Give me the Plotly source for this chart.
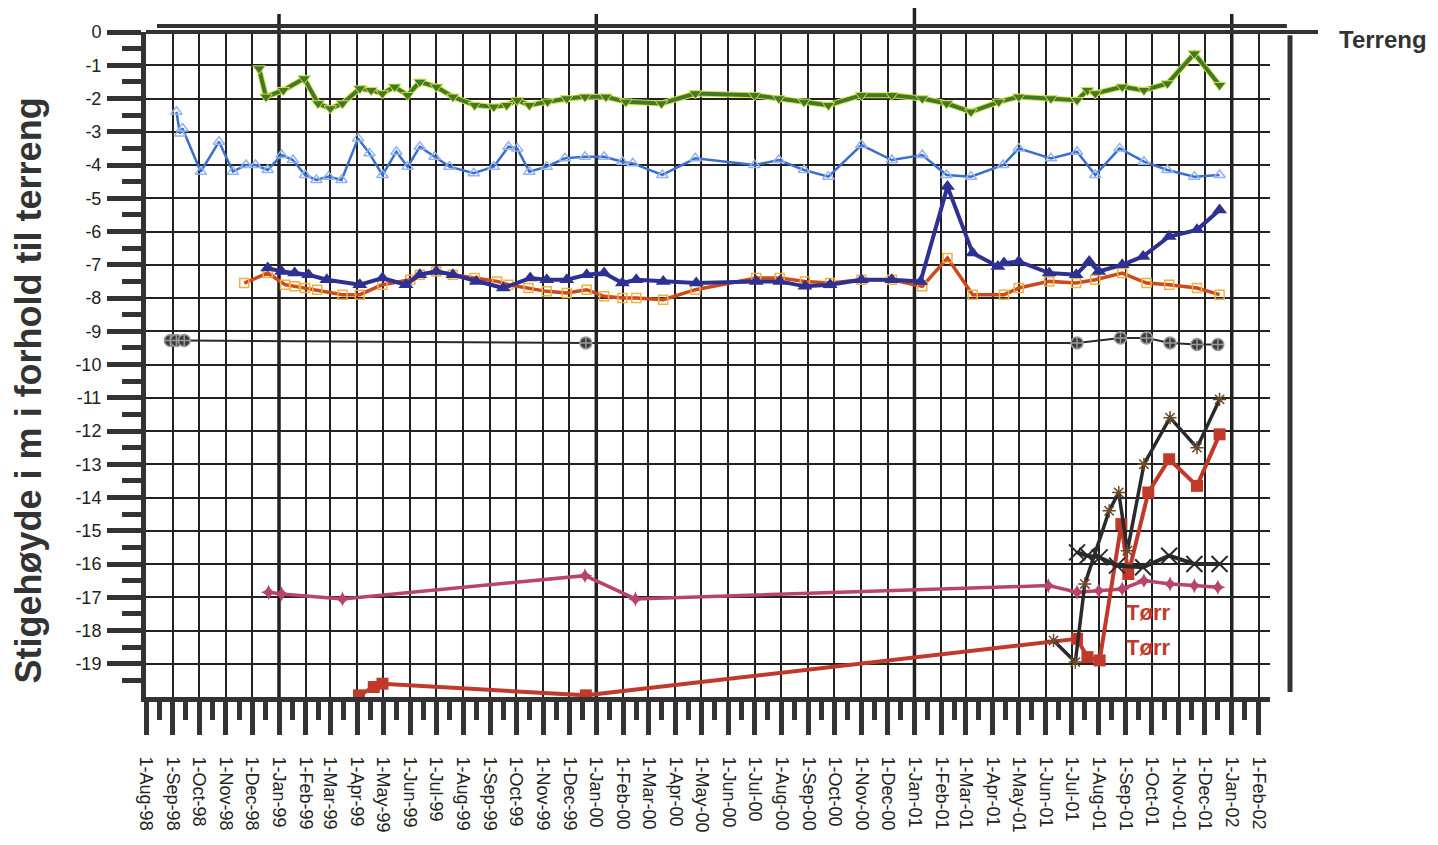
import pandas as pd
import plotly.graph_objects as go

# ---------------- data ----------------
green_dates = ["1998-12-09","1998-12-17","1999-01-06","1999-01-30","1999-02-15","1999-03-01","1999-03-15","1999-04-04","1999-04-17","1999-04-30","1999-05-14","1999-05-29","1999-06-12","1999-07-01","1999-07-20","1999-08-14","1999-09-05","1999-09-20","1999-10-02","1999-10-16","1999-11-06","1999-11-28","1999-12-19","2000-01-12","2000-02-04","2000-03-16","2000-04-24","2000-07-01","2000-07-29","2000-08-27","2000-09-24","2000-11-01","2000-12-06","2001-01-10","2001-02-07","2001-03-07","2001-04-08","2001-05-01","2001-06-07","2001-07-07","2001-07-19","2001-07-28","2001-08-28","2001-09-22","2001-10-19","2001-11-19","2001-12-18"]
green_vals = [-1.1,-1.95,-1.75,-1.4,-2.15,-2.3,-2.15,-1.7,-1.75,-1.85,-1.65,-1.9,-1.5,-1.65,-1.95,-2.2,-2.25,-2.2,-2.05,-2.2,-2.1,-2.0,-1.95,-1.95,-2.1,-2.15,-1.85,-1.9,-2.0,-2.1,-2.2,-1.9,-1.9,-2.0,-2.15,-2.4,-2.1,-1.95,-2.0,-2.05,-1.75,-1.85,-1.65,-1.75,-1.55,-0.65,-1.6]

lb_dates = ["1998-09-05","1998-09-09","1998-09-12","1998-10-03","1998-10-24","1998-11-09","1998-11-24","1998-12-05","1998-12-19","1999-01-04","1999-01-17","1999-01-31","1999-02-13","1999-02-27","1999-03-14","1999-04-02","1999-04-15","1999-04-30","1999-05-16","1999-05-29","1999-06-12","1999-06-29","1999-07-16","1999-08-13","1999-09-05","1999-09-22","1999-10-02","1999-10-16","1999-11-05","1999-11-26","1999-12-19","2000-01-10","2000-01-31","2000-02-12","2000-03-17","2000-04-24","2000-07-01","2000-07-29","2000-08-27","2000-09-24","2000-11-01","2000-12-06","2001-01-10","2001-02-07","2001-03-07","2001-04-13","2001-05-01","2001-06-07","2001-07-07","2001-07-28","2001-08-25","2001-09-22","2001-10-19","2001-11-19","2001-12-18"]
lb_vals = [-2.4,-3.05,-2.9,-4.2,-3.3,-4.2,-4.0,-4.0,-4.15,-3.7,-3.85,-4.3,-4.45,-4.35,-4.45,-3.2,-3.65,-4.3,-3.6,-4.05,-3.45,-3.75,-4.05,-4.25,-4.05,-3.45,-3.5,-4.2,-4.05,-3.8,-3.75,-3.75,-3.9,-3.95,-4.3,-3.8,-4.0,-3.85,-4.15,-4.35,-3.4,-3.85,-3.7,-4.3,-4.35,-4.0,-3.5,-3.8,-3.6,-4.3,-3.5,-3.9,-4.15,-4.35,-4.3]

nv_dates = ["1998-12-19","1999-01-04","1999-01-19","1999-02-04","1999-02-25","1999-04-04","1999-04-30","1999-05-27","1999-06-12","1999-07-01","1999-07-20","1999-08-16","1999-09-16","1999-10-17","1999-11-05","1999-11-28","1999-12-21","2000-01-10","2000-01-31","2000-02-16","2000-03-18","2000-04-25","2000-07-03","2000-07-30","2000-08-28","2000-09-26","2000-11-01","2000-12-06","2001-01-08","2001-02-08","2001-03-09","2001-04-07","2001-04-14","2001-05-01","2001-06-05","2001-07-06","2001-07-21","2001-08-01","2001-08-28","2001-09-21","2001-10-21","2001-11-22","2001-12-18"]
nv_vals = [-7.1,-7.2,-7.25,-7.3,-7.45,-7.6,-7.4,-7.6,-7.3,-7.2,-7.3,-7.5,-7.7,-7.4,-7.45,-7.45,-7.3,-7.25,-7.55,-7.45,-7.5,-7.55,-7.5,-7.5,-7.65,-7.6,-7.45,-7.45,-7.5,-4.65,-6.65,-7.05,-6.95,-6.9,-7.25,-7.3,-6.9,-7.2,-7.0,-6.75,-6.15,-5.95,-5.35]

or_dates = ["1998-11-22","1998-12-19","1999-01-08","1999-01-19","1999-01-31","1999-02-14","1999-03-15","1999-04-04","1999-04-30","1999-06-01","1999-06-12","1999-07-01","1999-07-20","1999-08-14","1999-09-09","1999-09-22","1999-10-15","1999-11-05","1999-11-28","1999-12-21","2000-01-10","2000-01-31","2000-02-16","2000-03-18","2000-04-24","2000-07-03","2000-07-30","2000-08-28","2000-09-26","2000-11-01","2000-12-06","2001-01-10","2001-02-08","2001-03-09","2001-04-14","2001-05-01","2001-06-05","2001-07-06","2001-07-28","2001-08-28","2001-09-25","2001-10-21","2001-11-22","2001-12-18"]
or_vals = [-7.55,-7.25,-7.6,-7.65,-7.7,-7.75,-7.9,-7.9,-7.6,-7.45,-7.3,-7.2,-7.3,-7.4,-7.5,-7.6,-7.7,-7.8,-7.85,-7.75,-7.95,-8.0,-8.0,-8.05,-7.75,-7.4,-7.4,-7.5,-7.55,-7.45,-7.45,-7.65,-6.8,-7.9,-7.9,-7.7,-7.5,-7.55,-7.45,-7.25,-7.55,-7.6,-7.7,-7.9]

bc_dates = ["1998-08-29","1998-09-05","1998-09-14","1999-12-20","2001-07-07","2001-08-26","2001-09-25","2001-10-22","2001-11-22","2001-12-16"]
bc_vals = [-9.28,-9.28,-9.28,-9.35,-9.35,-9.2,-9.2,-9.35,-9.4,-9.4]

mg_dates = ["1998-12-20","1999-01-04","1999-03-15","1999-12-19","2000-02-15","2001-06-04","2001-07-07","2001-08-01","2001-08-28","2001-09-22","2001-10-22","2001-11-19","2001-12-16"]
mg_vals = [-16.85,-16.9,-17.05,-16.35,-17.05,-16.65,-16.85,-16.8,-16.75,-16.5,-16.6,-16.65,-16.7]

rd_dates = ["1999-04-03","1999-04-20","1999-04-30","1999-12-20","2001-07-07","2001-07-19","2001-08-02","2001-08-27","2001-09-04","2001-09-27","2001-10-21","2001-11-22","2001-12-18"]
rd_vals = [-19.95,-19.7,-19.6,-19.95,-18.25,-18.8,-18.9,-14.8,-16.3,-13.85,-12.85,-13.65,-12.1]

ba_dates = ["2001-06-10","2001-07-05","2001-07-16","2001-08-13","2001-08-24","2001-09-03","2001-09-22","2001-10-22","2001-11-22","2001-12-18"]
ba_vals = [-18.3,-18.95,-16.6,-14.4,-13.85,-15.6,-13.0,-11.6,-12.5,-11.05]

bx_dates = ["2001-07-07","2001-07-19","2001-08-02","2001-08-22","2001-09-21","2001-10-21","2001-11-19","2001-12-18"]
bx_vals = [-15.65,-15.75,-15.8,-16.05,-16.1,-15.75,-16.0,-16.0]

label_dates = ["2001-09-27", "2001-09-27"]
label_vals = [-17.45, -18.5]
label_texts = ["Tørr", "Tørr"]

tick_dates = pd.date_range("1998-08-01", "2002-02-01", freq="MS")
tick_text = ["1-" + d.strftime("%b-%y") for d in tick_dates]
minor_dates = [d + pd.Timedelta(days=15) for d in tick_dates[:-1]]
y_ticks = list(range(0, -20, -1))
y_text = [str(v) for v in y_ticks]
y_minor = [v - 0.5 for v in y_ticks]
year_lines = ["1999-01-01", "2000-01-01", "2001-01-01", "2002-01-01"]

FONT = "Liberation Sans, Arial, sans-serif"

fig = go.Figure()

# green with yellow halo
fig.add_trace(go.Scatter(x=green_dates, y=green_vals, mode="lines",
                         line=dict(color="#d9df4c", width=6), hoverinfo="skip"))
fig.add_trace(go.Scatter(x=green_dates, y=green_vals, mode="lines+markers",
                         line=dict(color="#3f7a26", width=4),
                         marker=dict(symbol="triangle-down", size=11, color="#3f7a26",
                                     line=dict(color="#d9df4c", width=1))))
# light blue
fig.add_trace(go.Scatter(x=lb_dates, y=lb_vals, mode="lines+markers",
                         line=dict(color="#3a6fd0", width=2.5),
                         marker=dict(symbol="triangle-up-open", size=10, color="#93b3ea",
                                     line=dict(width=1.5))))
# orange
fig.add_trace(go.Scatter(x=or_dates, y=or_vals, mode="lines+markers",
                         line=dict(color="#cc4a1c", width=3.5),
                         marker=dict(symbol="square-open", size=9, color="#f0b040",
                                     line=dict(width=1.5))))
# navy
fig.add_trace(go.Scatter(x=nv_dates, y=nv_vals, mode="lines+markers",
                         line=dict(color="#2e3192", width=4),
                         marker=dict(symbol="triangle-up", size=13, color="#2e3192")))
# black circles
fig.add_trace(go.Scatter(x=bc_dates, y=bc_vals, mode="lines+markers",
                         line=dict(color="#2a2a2a", width=2),
                         marker=dict(symbol="circle-cross", size=12, color="#3a3a3a",
                                     line=dict(color="#9a9a9a", width=1.5))))
# magenta
fig.add_trace(go.Scatter(x=mg_dates, y=mg_vals, mode="lines+markers",
                         line=dict(color="#b8436e", width=3.5),
                         marker=dict(symbol="star-diamond", size=11, color="#b8436e")))
# red squares
fig.add_trace(go.Scatter(x=rd_dates, y=rd_vals, mode="lines+markers", cliponaxis=False,
                         line=dict(color="#c0392b", width=4),
                         marker=dict(symbol="square", size=12, color="#c0392b")))
# black X
fig.add_trace(go.Scatter(x=bx_dates, y=bx_vals, mode="lines+markers",
                         line=dict(color="#2a2a2a", width=4),
                         marker=dict(symbol="x-thin-open", size=16, color="#2a2a2a",
                                     line=dict(width=2))))
# black asterisk
fig.add_trace(go.Scatter(x=ba_dates, y=ba_vals, mode="lines+markers",
                         line=dict(color="#2a2a2a", width=3.5),
                         marker=dict(symbol="asterisk-open", size=11, color="#6a4a2a",
                                     line=dict(width=1.5))))

for d, v, t in zip(label_dates, label_vals, label_texts):
    fig.add_annotation(x=d, y=v, text="<b>" + t + "</b>", showarrow=False,
                       font=dict(family=FONT, size=22, color="#c0392b"))

fig.add_annotation(xref="paper", yref="paper", x=-0.105, y=0.461,
                   xanchor="center", yanchor="middle",
                   text="<b>Stigehøyde i m i forhold til terreng</b>", textangle=-90,
                   showarrow=False, font=dict(family=FONT, size=36, color="#333333"))
fig.add_annotation(xref="paper", yref="paper", x=1.1005, y=0.988,
                   xanchor="center", yanchor="middle",
                   text="<b>Terreng</b>", showarrow=False,
                   font=dict(family=FONT, size=24, color="#333333"))

shapes = []
for d in year_lines:
    top = 1.04 if d.startswith("2001") else 1.027
    shapes.append(dict(type="line", xref="x", yref="paper", x0=d, x1=d, y0=0, y1=top,
                       line=dict(color="#222222", width=3.5), layer="between"))
shapes.append(dict(type="line", xref="paper", yref="paper", x0=0, x1=1.0427, y0=1, y1=1,
                   line=dict(color="#333333", width=4)))
shapes.append(dict(type="line", xref="paper", yref="paper", x0=0.0098, x1=1.015, y0=1.009, y1=1.009,
                   line=dict(color="#333333", width=4)))
shapes.append(dict(type="line", xref="paper", yref="paper", x0=1.0178, x1=1.0178, y0=0.0075, y1=0.995,
                   line=dict(color="#333333", width=5)))

fig.update_layout(
    width=1430, height=837,
    margin=dict(l=138, r=168, t=24, b=145),
    paper_bgcolor="white", plot_bgcolor="white",
    showlegend=False,
    font=dict(family=FONT, color="#222222"),
    shapes=shapes,
    xaxis=dict(type="date", range=["1998-08-01", "2002-02-14"],
               tickmode="array", tickvals=tick_dates, ticktext=tick_text,
               tickangle=90, ticks="outside", ticklen=33, tickwidth=5, tickcolor="#333333",
               ticklabelstandoff=18,
               showgrid=True, gridcolor="#222222", gridwidth=1.5,
               showline=True, linewidth=5, linecolor="#333333", zeroline=False,
               tickfont=dict(family=FONT, size=18, color="#222222"),
               minor=dict(tickmode="array", tickvals=minor_dates, ticks="outside", ticklen=18,
                          tickwidth=5, tickcolor="#333333", showgrid=False)),
    yaxis=dict(range=[-20, 0], tickmode="array", tickvals=y_ticks, ticktext=y_text,
               ticks="outside", ticklen=34, tickwidth=5, tickcolor="#333333",
               ticklabelstandoff=2,
               showgrid=True, gridcolor="#222222", gridwidth=2,
               showline=True, linewidth=5, linecolor="#333333", zeroline=False,
               tickfont=dict(family=FONT, size=18, color="#222222"),
               minor=dict(tickmode="array", tickvals=y_minor, ticks="outside", ticklen=19,
                          tickwidth=5, tickcolor="#333333", showgrid=False)),
)

fig.write_html("out.html")
